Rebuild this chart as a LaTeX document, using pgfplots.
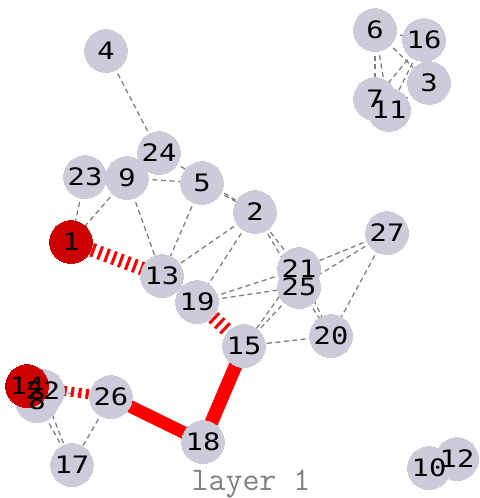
\documentclass[border=0pt]{standalone}
\usepackage{fontspec}
\usepackage{pgfplots}
\pgfplotsset{compat=1.18}
\newfontfamily\labfont[FakeStretch=1.2]{DejaVu Sans Mono}
\definecolor{nodegray}{RGB}{203,203,217}
\definecolor{nodered}{RGB}{204,0,0}
\definecolor{edgegray}{RGB}{128,128,128}
\pgfplotsset{
  gedge/.style={edgegray, line width=0.65pt, dash pattern=on 2.5pt off 1.75pt, mark=none},
  redthick/.style={red, line width=6.8pt, mark=none},
  redstripe/.style={red, line width=7pt, dash pattern=on 1.5pt off 2.2pt, mark=none},
}
\begin{document}
\begin{tikzpicture}
\begin{axis}[
  width=240pt, height=249pt, scale only axis,
  xmin=0, xmax=480, ymin=0, ymax=498, y dir=reverse,
  hide axis, clip=false]
% gray dashed edges
\addplot[gedge] coordinates {(106,51) (159,153)};
\addplot[gedge] coordinates {(159,153) (255,212)};
\addplot[gedge] coordinates {(202,183) (255,212)};
\addplot[gedge] coordinates {(127,178) (202,183)};
\addplot[gedge] coordinates {(85,177) (71,242)};
\addplot[gedge] coordinates {(127,178) (71,242)};
\addplot[gedge] coordinates {(127,178) (162,276)};
\addplot[gedge] coordinates {(202,183) (162,276)};
\addplot[gedge] coordinates {(255,212) (162,276)};
\addplot[gedge] coordinates {(255,212) (197,302)};
\addplot[gedge] coordinates {(255,212) (299,269)};
\addplot[gedge] coordinates {(255,212) (299,287)};
\addplot[gedge] coordinates {(387,233) (299,269)};
\addplot[gedge] coordinates {(387,233) (299,287)};
\addplot[gedge] coordinates {(387,233) (331,336)};
\addplot[gedge] coordinates {(197,302) (299,269)};
\addplot[gedge] coordinates {(197,302) (299,287)};
\addplot[gedge] coordinates {(299,269) (244,346)};
\addplot[gedge] coordinates {(299,287) (244,346)};
\addplot[gedge] coordinates {(299,269) (331,336)};
\addplot[gedge] coordinates {(299,287) (331,336)};
\addplot[gedge] coordinates {(331,336) (244,346)};
\addplot[gedge] coordinates {(43,391) (72,465)};
\addplot[gedge] coordinates {(37,401) (72,465)};
\addplot[gedge] coordinates {(111,397) (72,465)};
\addplot[gedge] coordinates {(43,391) (111,397)};
\addplot[gedge] coordinates {(375,30) (375,99)};
\addplot[gedge] coordinates {(375,30) (389,110)};
\addplot[gedge] coordinates {(375,30) (424,40)};
\addplot[gedge] coordinates {(375,30) (429,83)};
\addplot[gedge] coordinates {(424,40) (375,99)};
\addplot[gedge] coordinates {(424,40) (389,110)};
\addplot[gedge] coordinates {(429,83) (389,110)};
% red edges
\addplot[redstripe] coordinates {(71,242) (162,276)};
\addplot[redstripe] coordinates {(197,302) (244,346)};
\addplot[redstripe, line width=5pt] coordinates {(27,386) (111,397)};
\addplot[redthick] coordinates {(244,346) (203,442)};
\addplot[redthick, line width=6.3pt] coordinates {(203,442) (111,397)};
% nodes
\addplot[nodegray, only marks, mark=*, mark size=10.7pt, mark options={draw=nodegray, fill=nodegray, line width=0pt}] coordinates {
(255,212) (429,83) (106,51) (202,183) (375,30) (375,99) (37,401) (127,178)
(429,468) (389,110) (457,459) (162,276) (244,346) (424,40) (72,465) (203,442)
(197,302) (331,336) (299,269) (43,391) (85,177) (159,153) (299,287) (111,397) (387,233)};
\addplot[nodered, only marks, mark=*, mark size=10.7pt, mark options={draw=nodered, fill=nodered, line width=0pt}] coordinates {
(71,242) (27,386)};
% labels
\addplot[only marks, mark=none, nodes near coords, point meta=explicit symbolic,
  nodes near coords align={anchor=center},
  nodes near coords style={anchor=center, text=black, font=\labfont\fontsize{12}{13}\selectfont}]
  table[meta=l] {
x y l
71 242 1
255 212 2
429 83 3
106 51 4
202 183 5
375 30 6
375 99 7
37 401 8
127 178 9
429 468 10
389 110 11
457 459 12
162 276 13
27 386 14
244 346 15
424 40 16
72 465 17
203 442 18
197 302 19
331 336 20
299 269 21
43 391 22
85 177 23
159 153 24
299 287 25
111 397 26
387 233 27
};
\node[anchor=base, text=edgegray, font=\ttfamily\fontsize{16.5}{18}\selectfont] at (axis cs:251,490) {layer 1};
\end{axis}
\pgfresetboundingbox
\path[use as bounding box] (current axis.south west) rectangle (current axis.north east);
\end{tikzpicture}
\end{document}
